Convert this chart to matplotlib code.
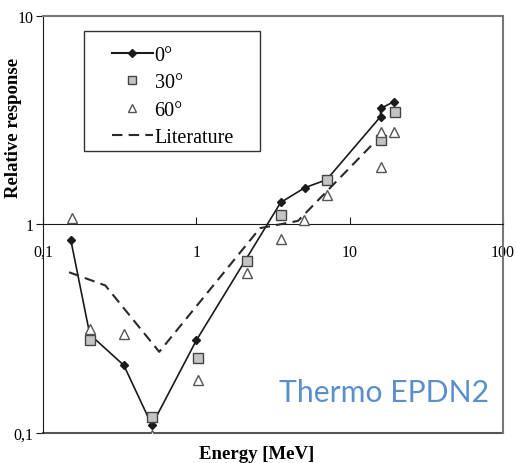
import matplotlib.pyplot as plt
import matplotlib.ticker as mticker
from matplotlib.lines import Line2D
from matplotlib.patches import Rectangle

# energies [MeV] and relative response
e_0 = [0.152, 0.202, 0.337, 0.513, 1.0, 3.55, 5.09, 7.08, 15.9, 15.9, 19.4]
r_0 = [0.84, 0.297, 0.211, 0.109, 0.278, 1.275, 1.50, 1.64, 3.29, 3.6, 3.88]

e_30 = [0.203, 0.513, 1.03, 2.15, 3.55, 7.08, 15.9, 19.9]
r_30 = [0.279, 0.119, 0.230, 0.67, 1.11, 1.64, 2.54, 3.47]

e_60 = [0.154, 0.203, 0.339, 0.513, 1.03, 2.14, 3.55, 5.04, 7.15, 15.9, 15.9, 19.4]
r_60 = [1.07, 0.317, 0.297, 0.098, 0.179, 0.582, 0.85, 1.05, 1.38, 1.89, 2.78, 2.78]

e_lit = [0.148, 0.255, 0.573, 2.6, 4.6, 14.3]
r_lit = [0.59, 0.51, 0.245, 0.96, 1.04, 2.45]

x_ticks = [0.1, 1, 10, 100]
x_labels = ['0,1', '1', '10', '100']
y_ticks = [0.1, 1, 10]
y_labels = ['0,1', '1', '10']

serif = 'Liberation Serif'

fig = plt.figure(figsize=(5.16, 4.64), dpi=100)
ax = fig.add_axes([0.0833, 0.0647, 0.8915, 0.8987])
ax.set_xscale('log')
ax.set_yscale('log')
ax.set_xlim(0.1, 100)
ax.set_ylim(0.1, 10)

ink = '#1a1a1a'
ax.plot(e_0, r_0, color=ink, lw=1.2, marker='D', ms=4.5, mfc=ink, mec=ink, zorder=3)
ax.plot(e_30, r_30, ls='none', marker='s', ms=7, mfc='#c4c4c4', mec='#444444', mew=1.0, zorder=4)
ax.plot(e_60, r_60, ls='none', marker='^', ms=6.5, mfc='white', mec='#555555', mew=1.0, zorder=5)
ax.plot(e_lit, r_lit, color='#2a2a2a', lw=1.5, dashes=(5, 3), zorder=6)

# x axis crosses at y = 1
ax.spines['bottom'].set_position(('data', 1))
ax.spines['bottom'].set_color(ink)
ax.spines['left'].set_color(ink)
for s in ['top', 'right']:
    ax.spines[s].set_color('#777777')
    ax.spines[s].set_linewidth(1.5)
ax.axhline(0.1, color='#555555', lw=1.5, clip_on=False, zorder=2)

ax.set_xticks(x_ticks)
ax.set_xticklabels(x_labels, fontfamily=serif, fontsize=11.5)
ax.set_yticks(y_ticks)
ax.set_yticklabels(y_labels, fontfamily=serif, fontsize=11.5)
ax.xaxis.set_minor_locator(mticker.NullLocator())
ax.yaxis.set_minor_locator(mticker.NullLocator())
ax.tick_params(axis='x', direction='in', length=5, pad=14, color=ink)
ax.tick_params(axis='y', direction='out', length=5, pad=2, color=ink)

ax.set_ylabel('Relative response', fontfamily=serif, fontsize=13.5, fontweight='bold')
ax.yaxis.set_label_coords(-0.046, 0.734)
ax.text(0.464, -0.05, 'Energy [MeV]', transform=ax.transAxes, ha='center', va='center',
        fontfamily=serif, fontsize=13.5, fontweight='bold')

# legend with a hand drawn box
ax.add_patch(Rectangle((0.089, 0.676), 0.382, 0.288, transform=ax.transAxes,
                       fill=False, ec='#333333', lw=1.0, zorder=7))
handles = [
    Line2D([], [], color=ink, lw=1.5, marker='D', ms=4.5),
    Line2D([], [], ls='none', marker='s', ms=6, mfc='#c4c4c4', mec='#444444'),
    Line2D([], [], ls='none', marker='^', ms=5.5, mfc='white', mec='#555555'),
    Line2D([], [], color='#2a2a2a', lw=1.5, dashes=(5, 3)),
]
ax.legend(handles, ['0°', '30°', '60°', 'Literature'], loc='upper left',
          bbox_to_anchor=(0.12, 0.963), frameon=False, handlelength=2.0,
          handletextpad=0.1, labelspacing=0.42, borderpad=0.2,
          prop={'family': serif, 'size': 14.5})

ax.text(0.97, 0.098, 'Thermo EPDN2', transform=ax.transAxes, ha='right', va='center',
        fontfamily='Lato', fontsize=21.7, color='#5b8fcc')

fig.savefig('out.png', dpi=100)
